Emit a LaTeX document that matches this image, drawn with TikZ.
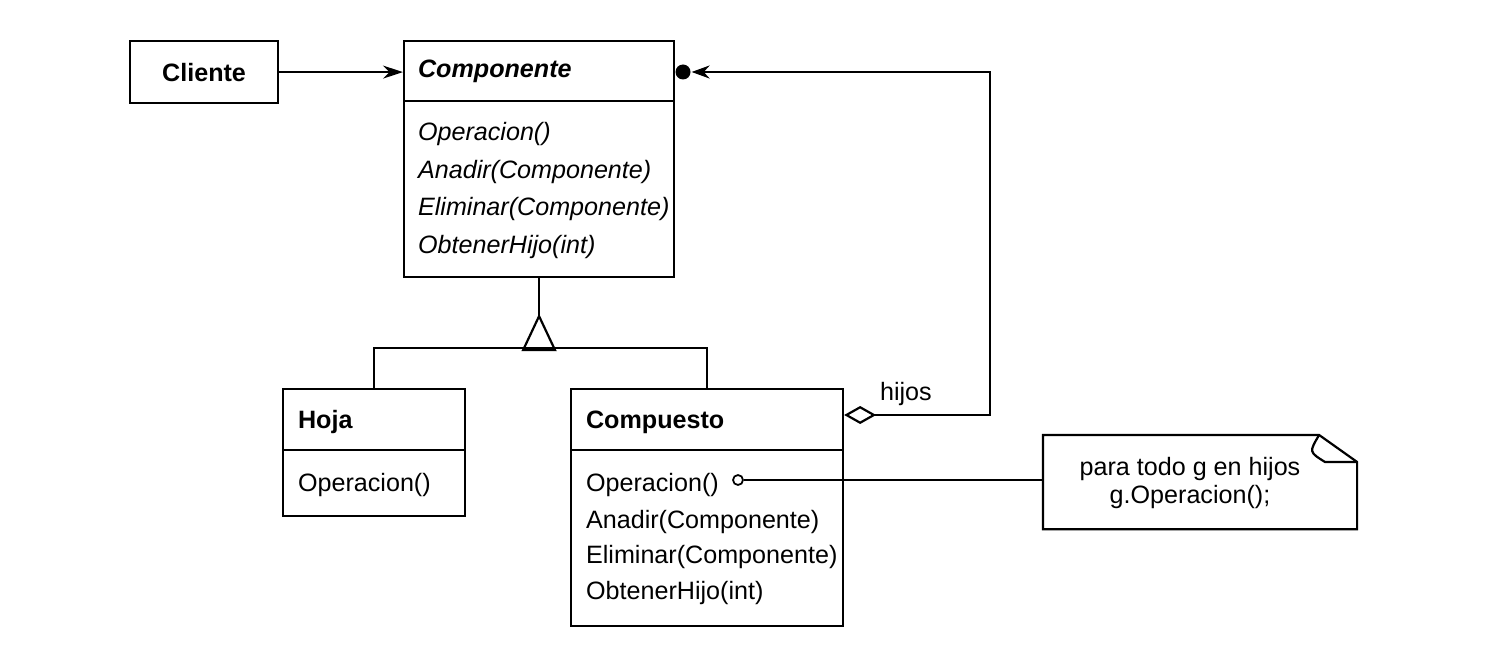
\documentclass[tikz,border=0pt]{standalone}
\usepackage{fontspec}
\setmainfont{Liberation Sans}
\usetikzlibrary{arrows.meta}

\newcommand{\umlfont}{\fontsize{14.3}{16}\selectfont}

\tikzset{
  classbox/.style={draw, rectangle, inner sep=0pt, anchor=north west},
  member/.style={anchor=base west, inner sep=0pt, font=\umlfont},
  classname/.style={member, font=\umlfont\bfseries},
  abstractname/.style={member, font=\umlfont\bfseries\itshape},
  abstractop/.style={member, font=\umlfont\itshape},
}

\begin{document}
\begin{tikzpicture}[x=0.02cm, y=-0.02cm, line width=1.25pt]
\useasboundingbox (0,0) rectangle (1492,655);

\node [classbox, minimum width=2.96cm, minimum height=1.24cm, font=\umlfont\bfseries] (cliente) at (129,40) {Cliente};

\node [classbox, minimum width=5.4cm, minimum height=4.72cm] (comp) at (403,40) {};
\draw (comp.north west) ++(0,61) -- ++(270,0);
\node [abstractname] (compName) at (417,78) {Componente};
\node [abstractop] (compOp)  at (417,141) {Operacion()};
\node [abstractop] (compAdd) at (417,179) {Anadir(Componente)};
\node [abstractop] (compDel) at (417,216) {Eliminar(Componente)};
\node [abstractop] (compGet) at (417,254) {ObtenerHijo(int)};

\node [classbox, minimum width=3.64cm, minimum height=2.54cm] (hoja) at (282,388) {};
\draw (hoja.north west) ++(0,62) -- ++(182,0);
\node [classname] (hojaName) at (297,428) {Hoja};
\node [member] (hojaOp) at (297,491) {Operacion()};

\node [classbox, minimum width=5.44cm, minimum height=4.74cm] (compu) at (570,388) {};
\draw (compu.north west) ++(0,62) -- ++(272,0);
\node [classname] (compuName) at (585,428) {Compuesto};
\node [member] (compuOp)  at (585,491) {Operacion()};
\node [member] (compuAdd) at (585,528) {Anadir(Componente)};
\node [member] (compuDel) at (585,563) {Eliminar(Componente)};
\node [member] (compuGet) at (585,599) {ObtenerHijo(int)};

%%%%%%%%%%%%%%%%%%%%%%%%%%%%%%%%%%%%%%%%

\draw [-{Stealth[length=0.4cm, width=0.26cm]}] (cliente.east) -- (cliente.east -| comp.west);

\node [circle, fill, inner sep=0pt, minimum size=0.3cm] (dot) at (683,72) {};
\coordinate (turn) at (990,72);
\path (compu.north east) ++(0,27) coordinate (aggr);
\draw [{Stealth[length=0.36cm, width=0.26cm]}-{Diamond[open, length=0.64cm, width=0.36cm]}]
     (dot.east) -- (turn) |- (aggr);
\node [member] (hijos) at (879,400) {hijos};

\draw (comp.south) -- ++(0,38) coordinate (apex);
\draw (apex) -- ++(-16,34) -- ++(32,0) -- cycle;
\draw (hoja.north) -- ++(0,-40) -| (compu.north);

%%%%%%%%%%%%%%%%%%%%%%%%%%%%%%%%%%%%%%%%

\node [inner sep=0pt, minimum width=6.24cm, minimum height=1.84cm, anchor=north west] (note) at (1043,435) {};
\path (note.north east) ++(-38,0) coordinate (foldA)
      (note.north east) ++(0,27) coordinate (foldC);
\draw (foldA) -- (note.north west) -- (note.south west) -- (note.south east) -- (foldC) -- cycle;
\draw (foldA) .. controls (1309,452) .. (1325,462) -- (foldC);
\node [align=center, font=\umlfont] (noteText) at (1190,483) {para todo g en hijos\\g.Operacion();};

\node [circle, draw, fill=white, inner sep=0pt, minimum size=0.2cm, line width=1pt] (knob) at (738,480) {};
\draw (knob) -- (knob -| note.west);

\end{tikzpicture}
\end{document}
